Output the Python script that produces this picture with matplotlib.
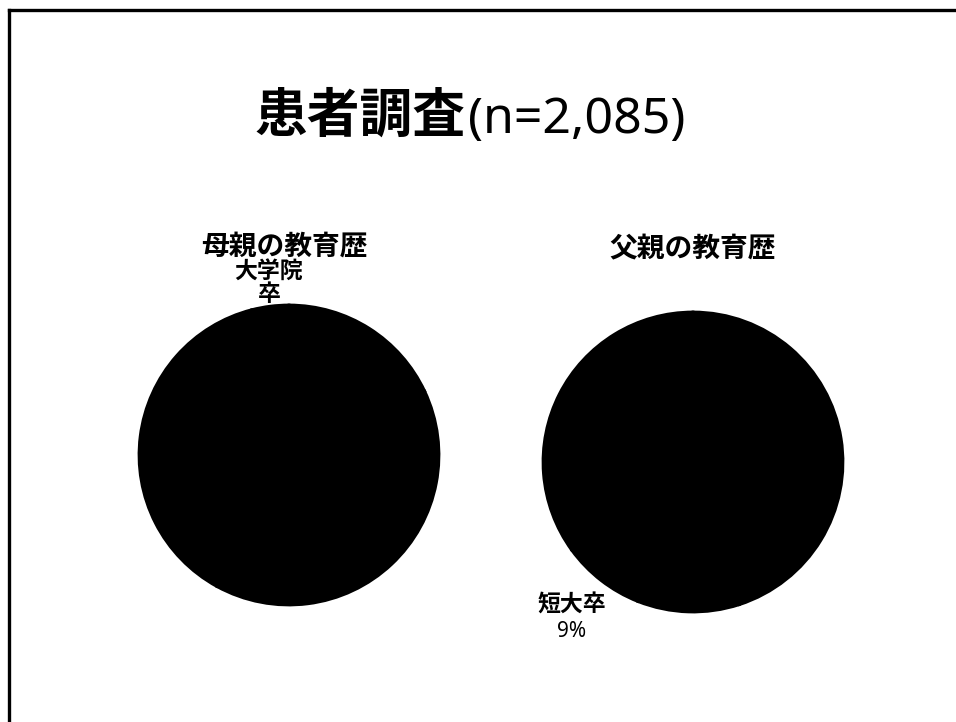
import textwrap

import matplotlib
matplotlib.use("Agg")
import matplotlib.pyplot as plt
import numpy as np
from matplotlib.lines import Line2D

plt.rcParams['font.family'] = ['Noto Sans CJK JP', 'DejaVu Sans']

# survey data (all slices are drawn in black, as in the source slide)
title_main = "患者調査"
title_n = "(n=2,085)"

mother_title = "母親の教育歴"
mother_labels = ["大学卒", "短大卒", "高校卒", "大学院卒"]
mother_pct = [18, 40, 38, 4]

father_title = "父親の教育歴"
father_labels = ["大学卒", "大学院卒", "短大卒", "高校卒"]
father_pct = [45, 11, 9, 35]

W, H = 956, 722
fig = plt.figure(figsize=(W / 100, H / 100), dpi=100)
fig.patch.set_facecolor("white")


def fx(x):
    return x / W


def fy(y):
    return 1 - y / H


# slide frame: only the left and top edges show in the scan
fig.add_artist(Line2D([fx(8.5), fx(8.5)], [fy(9.5), 0], color="black", lw=2.4))
fig.add_artist(Line2D([fx(8.5), 1], [fy(9.5), fy(9.5)], color="black", lw=2.4))

# title: bold kanji + regular count
fig.text(fx(465), fy(132), title_main, fontsize=38, fontweight="bold",
         ha="right", va="baseline")
fig.text(fx(468), fy(133), title_n, fontsize=36, ha="left", va="baseline",
         family=["Noto Sans", "DejaVu Sans"])


def draw_pie(cx, cy, labels, pct, title, title_x, title_y, label_dist):
    r_px = 150
    k = 1.4
    half = r_px * k
    ax = fig.add_axes([fx(cx - half), fy(cy + half), 2 * half / W, 2 * half / H])
    wedges, _ = ax.pie(pct, colors=["black"] * len(pct), startangle=90,
                       counterclock=False, radius=1,
                       wedgeprops=dict(edgecolor="black", linewidth=2))
    ax.set_xlim(-k, k)
    ax.set_ylim(-k, k)
    ax.set_aspect("equal")
    ax.axis("off")

    # small slices get their label outside; the rest sit inside (black on black)
    lh = 19
    for w, name, p in zip(wedges, labels, pct):
        if p >= 10:
            continue
        ang = np.deg2rad((w.theta1 + w.theta2) / 2)
        pos = (label_dist * np.cos(ang), label_dist * np.sin(ang))
        lines = textwrap.wrap(name, 3)
        n = len(lines)
        ax.annotate("\n".join(lines), pos, xytext=(0, lh / 2), textcoords="offset points",
                    ha="center", va="center", multialignment="center",
                    fontsize=16.5, fontweight="bold", linespacing=1.0, zorder=0)
        ax.annotate(f"{p}%", pos, xytext=(0, -n / 2 * lh), textcoords="offset points",
                    ha="center", va="center", fontsize=15, zorder=0,
                    family=["Noto Sans", "DejaVu Sans"])

    fig.text(fx(title_x), fy(title_y), title, fontsize=20,
             fontweight="bold", ha="center", va="center")


draw_pie(289, 455, mother_labels, mother_pct, mother_title, 284, 247, 1.065)
draw_pie(693, 462, father_labels, father_pct, father_title, 693, 249, 1.32)

fig.savefig("out.png", dpi=100, facecolor="white")
